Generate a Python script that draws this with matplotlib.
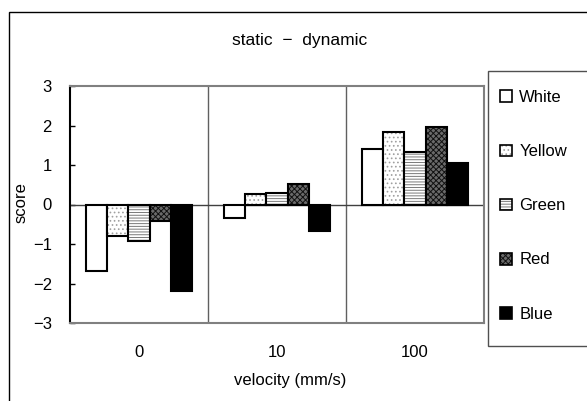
import matplotlib
matplotlib.use("Agg")
import matplotlib.pyplot as plt
import numpy as np
from matplotlib.patches import Rectangle

plt.rcParams["font.family"] = ["Liberation Sans", "DejaVu Sans"]
plt.rcParams["hatch.linewidth"] = 0.7

velocities = ["0", "10", "100"]
colours = ["White", "Yellow", "Green", "Red", "Blue"]
white = [-1.68, -0.33, 1.40]
yellow = [-0.81, 0.26, 1.84]
green = [-0.93, 0.30, 1.34]
red = [-0.42, 0.51, 1.95]
blue = [-2.18, -0.68, 1.06]

series = [white, yellow, green, red, blue]
styles = [
    dict(facecolor="white", hatch=None),
    dict(facecolor="white", hatch="....", hatch_color="#a0a0a0"),
    dict(facecolor="white", hatch="------", hatch_color="#7a7a7a"),
    dict(facecolor="#6a6a6a", hatch="xxxxxx", hatch_color="#111111"),
    dict(facecolor="black", hatch=None),
]

fig = plt.figure(figsize=(5.87, 4.01), dpi=100)
ax = fig.add_axes([70 / 587, 1 - 323 / 401, 414 / 587, 237 / 401])

# outer chart border, runs off the right and bottom of the image
fig.patches.append(Rectangle((9 / 587, -0.1), 1.2, 1 - 12 / 401 + 0.1,
                             transform=fig.transFigure, fill=False,
                             edgecolor="black", linewidth=1.0, zorder=0))

x = np.arange(len(velocities))
w = 0.155
handles = []
for i, (vals, st) in enumerate(zip(series, styles)):
    kw = dict(facecolor=st["facecolor"], edgecolor="black", linewidth=1.5)
    if st["hatch"]:
        kw["hatch"] = st["hatch"]
    bars = ax.bar(x + (i - 2) * w, vals, w, zorder=3, **kw)
    if st["hatch"]:
        for b in bars:
            b._hatch_color = matplotlib.colors.to_rgba(st["hatch_color"])
    handles.append(bars[0])

ax.set_xlim(-0.5, 2.5)
ax.set_ylim(-3, 3)
ax.set_yticks(range(-3, 4))
ax.set_yticklabels([str(v).replace("-", "\u2212") for v in range(-3, 4)])
ax.set_xticks(x)
ax.set_xticklabels(velocities)
ax.tick_params(axis="x", length=0, pad=16, labelsize=12)
ax.tick_params(axis="y", direction="in", length=3.5, width=1, pad=13, labelsize=12)

for s in ["top", "right", "bottom"]:
    ax.spines[s].set_color("#808080")
    ax.spines[s].set_linewidth(1.5)
ax.spines["left"].set_color("black")
ax.spines["left"].set_linewidth(1.5)

for sep in [0.5, 1.5]:
    ax.axvline(sep, color="#606060", linewidth=1.0, zorder=1)
ax.axhline(0, color="#404040", linewidth=1.0, zorder=2)

ax.set_ylabel("score", fontsize=12)
ax.yaxis.set_label_coords(-0.100, 0.51)
ax.set_xlabel("velocity (mm/s)", fontsize=12)
ax.xaxis.set_label_coords(0.531, -0.212)

fig.text(300 / 587, 1 - 40 / 401, "static  \u2212  dynamic", ha="center", va="center", fontsize=12.5)

# legend frame, cut off at the right edge like the original
fig.patches.append(Rectangle((488 / 587, 1 - 346 / 401), 0.5, 275 / 401,
                             transform=fig.transFigure, fill=True, facecolor="white",
                             edgecolor="#505050", linewidth=1.0, zorder=1))
leg = fig.legend(handles, colours, loc="upper left", bbox_to_anchor=(500 / 587, 1 - 90 / 401),
                 frameon=False, fontsize=12, handlelength=0.7, handleheight=0.7,
                 handletextpad=0.45, labelspacing=2.35, borderpad=0, borderaxespad=0)
for h in leg.legend_handles:
    h.set_linewidth(1.2)

fig.savefig("out.png", dpi=100)
